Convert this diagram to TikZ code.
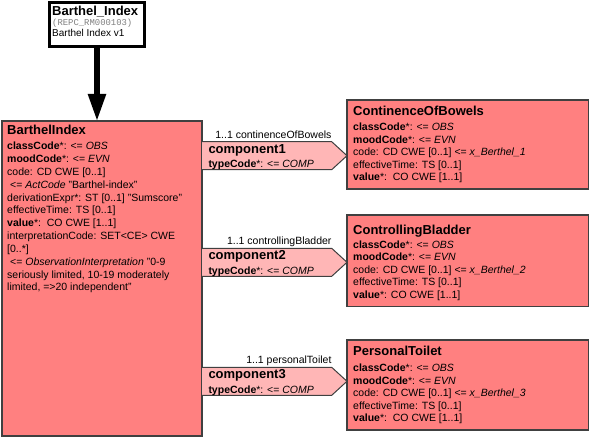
\documentclass[tikz,border=0pt]{standalone}
\usepackage{fontspec}
\setmainfont{Liberation Sans}
\setmonofont{Liberation Mono}
\usetikzlibrary{arrows.meta}
\definecolor{classfill}{HTML}{FF8080}
\definecolor{compfill}{HTML}{FFB6B6}
\definecolor{edgegray}{HTML}{404040}
\definecolor{idgray}{HTML}{808080}
\begin{document}
\begin{tikzpicture}[x=1pt,y=-1pt,
  classbox/.style={draw=edgegray, line width=1.2pt, fill=classfill, anchor=north west, inner sep=0pt, outer sep=0pt},
  titletext/.style={anchor=base west, inner sep=0pt, font=\fontsize{13}{15}\selectfont\bfseries},
  attr/.style={anchor=base west, inner sep=0pt, font=\fontsize{10.5}{12.8}\selectfont},
  rolelabel/.style={anchor=base east, inner sep=0pt, font=\fontsize{10.5}{12.8}\selectfont},
  comp/.style={fill=compfill, draw=edgegray, line width=1pt, line join=miter}]
\useasboundingbox (0,0) rectangle (592,441);

% template header box
\node[draw=black, line width=2.7pt, fill=white, anchor=north west, inner sep=0pt,
      minimum width=95.3pt, minimum height=44.3pt] (tmpl) at (48,1) {};
\node[titletext] (tmplname) at (52,15.2) {Barthel\_Index};
\node[anchor=base west, inner sep=0pt, text=idgray, font=\fontsize{8.9}{10}\selectfont\ttfamily] (tmplid) at (52,26) {(REPC\_RM000103)};
\node[anchor=base west, inner sep=0pt, font=\fontsize{10}{12}\selectfont] (tmplver) at (52,36.7) {Barthel Index v1};

% entry class
\node[classbox, minimum width=200pt, minimum height=315pt] (barthel) at (2,121) {};
\draw[line width=5.3pt, -{Triangle[width=17pt,length=27pt]}] (tmpl.south) -- (tmpl.south |- barthel.north);
\node[titletext] (bt) at (7,135) {BarthelIndex};
\node[attr] (b1) at (7,150) {\textbf{classCode}*: <= \textit{OBS}};
\node[attr] (b2) at (7,162.8) {\textbf{moodCode}*: <= \textit{EVN}};
\node[attr] (b3) at (7,175.6) {code: CD CWE [0..1]};
\node[attr] (b4) at (7,188.4) {\hspace{3pt}<= \textit{ActCode} "Barthel-index"};
\node[attr] (b5) at (7,201.2) {derivationExpr*: ST [0..1] "Sumscore"};
\node[attr] (b6) at (7,214) {effectiveTime: TS [0..1]};
\node[attr] (b7) at (7,226.8) {\textbf{value}*:\ \ CO CWE [1..1]};
\node[attr] (b8) at (7,239.6) {interpretationCode: SET<CE> CWE};
\node[attr] (b9) at (7,252.4) {[0..*]};
\node[attr] (b10) at (7,265.2) {\hspace{3pt}<= \textit{ObservationInterpretation} "0-9};
\node[attr] (b11) at (7,278) {seriously limited, 10-19 moderately};
\node[attr] (b12) at (7,290.8) {limited, =>20 independent"};

% component classes
\node[classbox, minimum width=241.5pt, minimum height=89pt] (cob) at (347,100) {};
\node[titletext] (cobt) at (353,115.3) {ContinenceOfBowels};
\node[attr] (cob1) at (353,131) {\textbf{classCode}*: <= \textit{OBS}};
\node[attr] (cob2) at (353,143.5) {\textbf{moodCode}*: <= \textit{EVN}};
\node[attr] (cob3) at (353,156) {code: CD CWE [0..1] <= \textit{x\_Berthel\_1}};
\node[attr] (cob4) at (353,168.5) {effectiveTime: TS [0..1]};
\node[attr] (cob5) at (353,181) {\textbf{value}*:\ \ CO CWE [1..1]};

\node[classbox, minimum width=241.5pt, minimum height=91.7pt] (cb) at (347,215) {};
\node[titletext] (cbt) at (353,234) {ControllingBladder};
\node[attr] (cb1) at (353,248) {\textbf{classCode}*: <= \textit{OBS}};
\node[attr] (cb2) at (353,260.5) {\textbf{moodCode}*: <= \textit{EVN}};
\node[attr] (cb3) at (353,273) {code: CD CWE [0..1] <= \textit{x\_Berthel\_2}};
\node[attr] (cb4) at (353,285.5) {effectiveTime: TS [0..1]};
\node[attr] (cb5) at (353,298) {\textbf{value}*: CO CWE [1..1]};

\node[classbox, minimum width=241.5pt, minimum height=90pt] (pt) at (347,340) {};
\node[titletext] (ptt) at (353,355.7) {PersonalToilet};
\node[attr] (pt1) at (353,371.5) {\textbf{classCode}*: <= \textit{OBS}};
\node[attr] (pt2) at (353,384) {\textbf{moodCode}*: <= \textit{EVN}};
\node[attr] (pt3) at (353,396.5) {code: CD CWE [0..1] <= \textit{x\_Berthel\_3}};
\node[attr] (pt4) at (353,409) {effectiveTime: TS [0..1]};
\node[attr] (pt5) at (353,421.5) {\textbf{value}*:\ \ CO CWE [1..1]};

% ActRelationship connectors (arrow-shaped)
\filldraw[comp] (barthel.east |- 0,141.7) -- (331.7,141.7) -- (cob.west |- 0,155.7)
  -- (331.7,169.7) -- (barthel.east |- 0,169.7);
\node[rolelabel] (r1) at (331.7,138.3) {1..1 continenceOfBowels};
\node[titletext] (c1) at (208.3,153.3) {component1};
\node[attr] (c1t) at (208.3,167.5) {\textbf{typeCode}*: <= \textit{COMP}};

\filldraw[comp] (barthel.east |- 0,248.3) -- (331.7,248.3) -- (cb.west |- 0,262.3)
  -- (331.7,276.3) -- (barthel.east |- 0,276.3);
\node[rolelabel] (r2) at (331.7,244.9) {1..1 controllingBladder};
\node[titletext] (c2) at (208.3,259.9) {component2};
\node[attr] (c2t) at (208.3,274.1) {\textbf{typeCode}*: <= \textit{COMP}};

\filldraw[comp] (barthel.east |- 0,367.3) -- (331.7,367.3) -- (pt.west |- 0,381.3)
  -- (331.7,395.3) -- (barthel.east |- 0,395.3);
\node[rolelabel] (r3) at (331.7,363.9) {1..1 personalToilet};
\node[titletext] (c3) at (208.3,378.9) {component3};
\node[attr] (c3t) at (208.3,393.1) {\textbf{typeCode}*: <= \textit{COMP}};
\end{tikzpicture}
\end{document}
